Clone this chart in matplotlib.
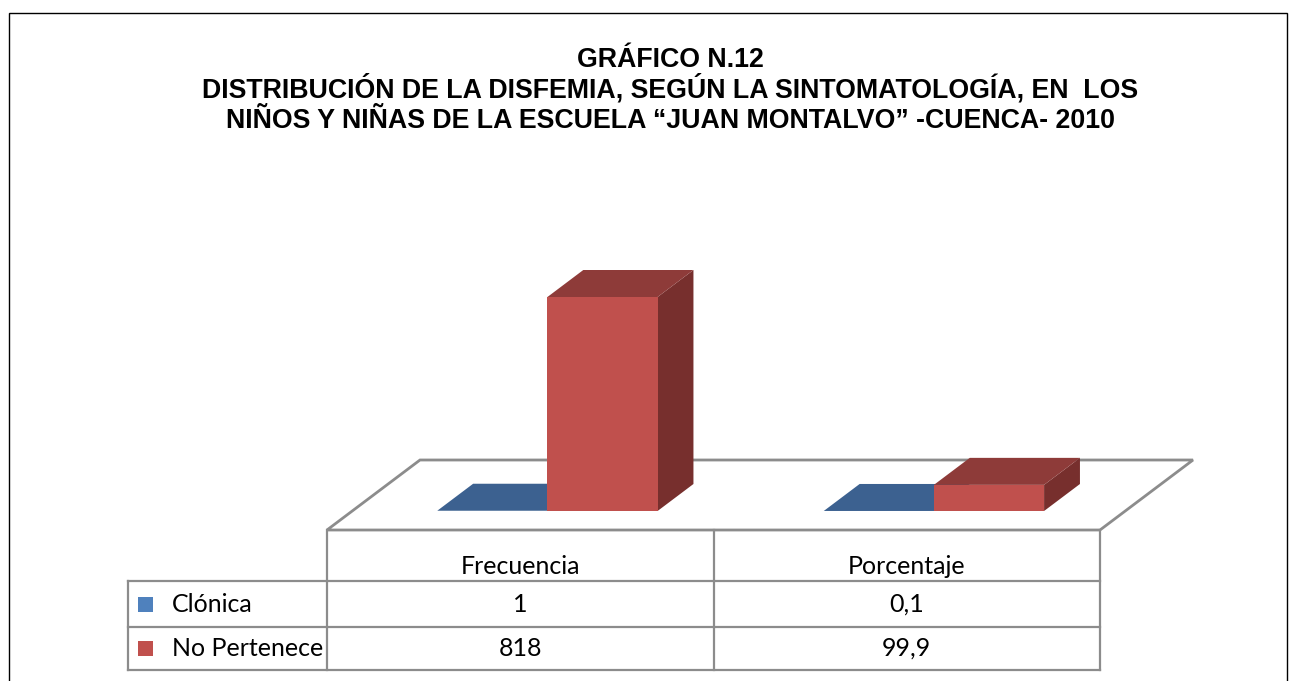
import matplotlib
matplotlib.use("Agg")
import matplotlib.pyplot as plt
from matplotlib.patches import Polygon, Rectangle

# data
categories = ['Frecuencia', 'Porcentaje']
series = ['Clónica', 'No Pertenece']
values = [[1, 0.1], [818, 99.9]]
cell_text = [['1', '0,1'], ['818', '99,9']]
title_lines = ['GRÁFICO N.12',
               'DISTRIBUCIÓN DE LA DISFEMIA, SEGÚN LA SINTOMATOLOGÍA, EN  LOS',
               'NIÑOS Y NIÑAS DE LA ESCUELA \u201cJUAN MONTALVO\u201d -CUENCA- 2010']

front_colors = ['#4F81BD', '#C0504D']
top_colors = ['#3C6190', '#8E3B39']
side_colors = ['#2F4D73', '#772F2D']
grid_col = '#8c8c8c'

W, H = 1290, 681
fig = plt.figure(figsize=(W / 100, H / 100), dpi=100)

# bar axes: x in category units, y in value units
col_px = 386.5            # pixels per category
val_px = 214.0 / 818.0    # pixels per value unit
floor_y = 530             # pixel row of the floor front edge
ymax = 1000
ax = fig.add_axes([327 / W, (H - floor_y) / H, 2 * col_px / W, ymax * val_px / H])
ax.set_xlim(-0.5, 1.5)
ax.set_ylim(0, ymax)
ax.axis('off')


def proj(x, y, d):
    # oblique depth: d pixels up, d*93/70 pixels right
    return (x + d * (93.0 / 70.0) / col_px, y + d / val_px)


floor_depth = 70
bar_d0, bar_d1 = 19, 46
bw = 0.285

floor = [proj(-0.5, 0, 0), proj(1.5, 0, 0), proj(1.5, 0, floor_depth), proj(-0.5, 0, floor_depth)]
ax.add_patch(Polygon(floor, closed=True, fc='white', ec=grid_col, lw=2.0, clip_on=False, zorder=1))

for i in range(len(categories)):
    for s in range(len(series)):
        v = values[s][i]
        x0 = i + (s - 1) * bw + 0.005
        x1 = x0 + bw
        front = [proj(x0, 0, bar_d0), proj(x1, 0, bar_d0), proj(x1, v, bar_d0), proj(x0, v, bar_d0)]
        top = [proj(x0, v, bar_d0), proj(x1, v, bar_d0), proj(x1, v, bar_d1), proj(x0, v, bar_d1)]
        side = [proj(x1, 0, bar_d0), proj(x1, 0, bar_d1), proj(x1, v, bar_d1), proj(x1, v, bar_d0)]
        z = 2 + s
        ax.add_patch(Polygon(side, closed=True, fc=side_colors[s], ec='none', clip_on=False, zorder=z))
        ax.add_patch(Polygon(top, closed=True, fc=top_colors[s], ec='none', clip_on=False, zorder=z))
        ax.add_patch(Polygon(front, closed=True, fc=front_colors[s], ec='none', clip_on=False, zorder=z))

# data table below the floor
label_w = 199 / col_px
row_edges = [0, 51, 97, 140]
tab = fig.add_axes([(327 - 199) / W, (H - floor_y - 140) / H, (199 + 2 * col_px) / W, 140 / H])
tab.set_xlim(-0.5 - label_w, 1.5)
tab.set_ylim(140, 0)
tab.axis('off')

left = -0.5 - label_w
for yy in row_edges[1:]:
    tab.plot([left, 1.5], [yy, yy], color=grid_col, lw=1.6, clip_on=False)
tab.plot([left, left], [row_edges[1], row_edges[3]], color=grid_col, lw=1.6, clip_on=False)
for xx in [-0.5, 0.5, 1.5]:
    tab.plot([xx, xx], [0, row_edges[3]], color=grid_col, lw=1.6, clip_on=False)

tfont = dict(family='Lato', size=18, color='black')
for i, c in enumerate(categories):
    tab.text(i, 37, c, ha='center', va='center', **tfont)
for s, name in enumerate(series):
    yc = (row_edges[s + 1] + row_edges[s + 2]) / 2
    tab.add_patch(Rectangle((left + 10 / col_px, yc - 7.5), 15 / col_px, 15,
                            fc=front_colors[s], ec='none'))
    tab.text(left + 44 / col_px, yc, name, ha='left', va='center', **tfont)
    for i in range(len(categories)):
        tab.text(i, yc, cell_text[s][i], ha='center', va='center', **tfont)

# title
for k, (line, base) in enumerate(zip(title_lines, [67, 97, 128])):
    fig.text(670 / W, 1 - base / H, line, ha='center', va='baseline',
             family='Liberation Sans', fontweight='bold', fontsize=19.3)

# outer frame
fig.add_artist(Rectangle((9 / W, -0.1), 1278 / W, (H - 13) / H + 0.1,
                         transform=fig.transFigure, fill=False, ec='black', lw=1.0))

fig.savefig('out.png', dpi=100)
